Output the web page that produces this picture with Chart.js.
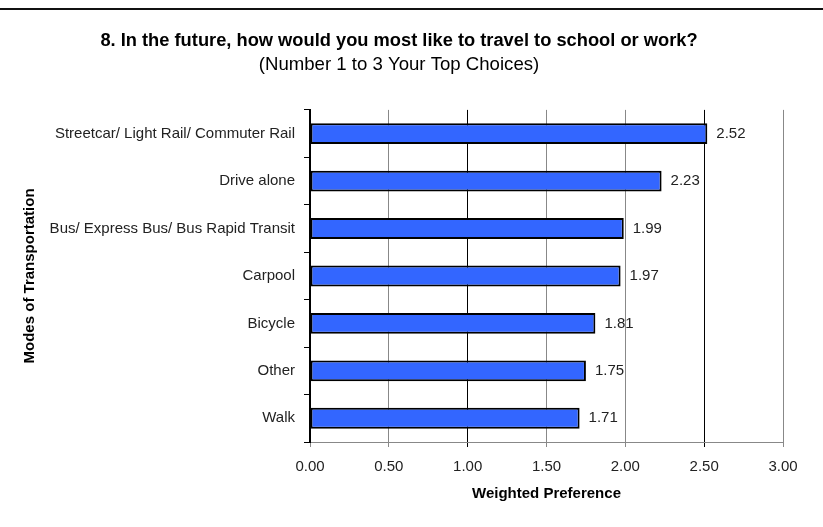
<!DOCTYPE html>
<html>
<head>
<meta charset="utf-8">
<script src="https://cdn.jsdelivr.net/npm/chart.js@4.4.1/dist/chart.umd.min.js"></script>
<style>
    html, body { margin: 0; padding: 0; background: #fff; }
    #wrap { position: relative; width: 823px; height: 527px; }
    #rule { position: absolute; left: 0; right: 0; top: 8px; height: 0; border-top: 2px solid #111; }
</style>
</head>
<body>
<div id="wrap">
    <canvas id="chart" width="823" height="527"></canvas>
    <div id="rule"></div>
</div>
<script>
"use strict";

var titleText = "8. In the future, how would you most like to travel to school or work?";
var subtitleText = "(Number 1 to 3 Your Top Choices)";
var modes = [
    "Streetcar/ Light Rail/ Commuter Rail",
    "Drive alone",
    "Bus/ Express Bus/ Bus Rapid Transit",
    "Carpool",
    "Bicycle",
    "Other",
    "Walk"
];
var preference = [2.52, 2.23, 1.99, 1.97, 1.81, 1.75, 1.71];
var xTicks = [0, 0.5, 1, 1.5, 2, 2.5, 3];
var darkGridValues = [1, 2.5];

var fontFamily = "'Liberation Sans', Arial, sans-serif";

// value labels at the end of each bar
var valueLabels = {
    id: "valueLabels",
    afterDatasetsDraw: function(chart) {
        var ctx = chart.ctx;
        var meta = chart.getDatasetMeta(0);
        ctx.save();
        ctx.font = "15px " + fontFamily;
        ctx.fillStyle = "#222";
        ctx.textAlign = "left";
        ctx.textBaseline = "middle";
        meta.data.forEach(function(bar, i) {
            ctx.fillText(preference[i].toFixed(2), bar.x + 9, bar.y);
        });
        ctx.restore();
    }
};

new Chart(document.getElementById("chart"), {
    type: "bar",
    data: {
        labels: modes,
        datasets: [
            {
                data: preference,
                backgroundColor: "#3366ff",
                borderColor: "#000",
                borderWidth: 2,
                borderSkipped: false,
                barPercentage: 0.44,
                categoryPercentage: 1
            }
        ]
    },
    options: {
        indexAxis: "y",
        responsive: false,
        animation: false,
        layout: {
            padding: { top: 0, left: 15, right: 40, bottom: 24 }
        },
        plugins: {
            legend: { display: false },
            tooltip: { enabled: false },
            title: {
                display: true,
                text: titleText,
                color: "#000",
                font: { family: fontFamily, size: 18.3, weight: "bold", lineHeight: 1 },
                padding: { top: 32, bottom: 0 }
            },
            subtitle: {
                display: true,
                text: subtitleText,
                color: "#000",
                font: { family: fontFamily, size: 18.6, lineHeight: 1 },
                padding: { top: 5, bottom: 36 }
            }
        },
        scales: {
            x: {
                min: 0,
                max: 3,
                afterBuildTicks: function(scale) {
                    scale.ticks = xTicks.map(function(v) { return { value: v }; });
                },
                afterFit: function(scale) {
                    scale.height = 61;
                },
                border: { color: "#888", width: 1 },
                grid: {
                    color: function(ctx) {
                        return ctx.tick && darkGridValues.indexOf(ctx.tick.value) >= 0 ? "#000" : "#888";
                    },
                    lineWidth: 1,
                    tickLength: 5
                },
                ticks: {
                    padding: 11,
                    color: "#222",
                    font: { family: fontFamily, size: 15 },
                    callback: function(v) { return Number(v).toFixed(2); }
                },
                title: {
                    display: true,
                    text: "Weighted Preference",
                    color: "#000",
                    font: { family: fontFamily, size: 15, weight: "bold" },
                    padding: { top: 6, bottom: 0 }
                }
            },
            y: {
                afterFit: function(scale) {
                    scale.width = 295;
                },
                border: { color: "#000", width: 2 },
                grid: {
                    offset: true,
                    drawOnChartArea: false,
                    color: "#000",
                    tickLength: 6
                },
                ticks: {
                    padding: 9,
                    color: "#222",
                    font: { family: fontFamily, size: 15 }
                },
                title: {
                    display: true,
                    text: "Modes of Transportation",
                    color: "#000",
                    font: { family: fontFamily, size: 15, weight: "bold" },
                    padding: { top: 6, bottom: 0 }
                }
            }
        }
    },
    plugins: [valueLabels]
});
</script>
</body>
</html>
